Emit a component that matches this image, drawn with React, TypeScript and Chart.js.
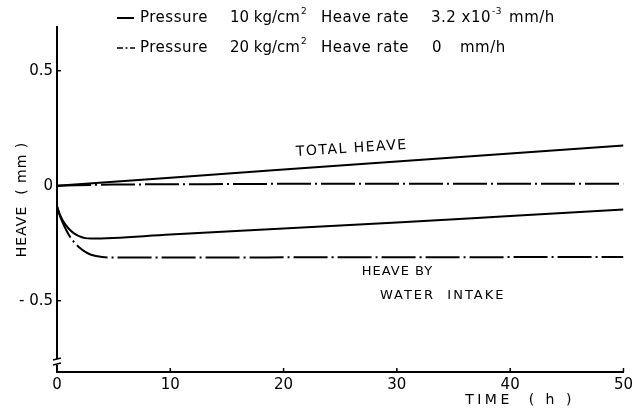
import React, { useEffect, useRef } from "react";
import { Chart, registerables } from "chart.js";

Chart.register(...registerables);

// Time axis (h)
const xTicks = [0, 10, 20, 30, 40, 50];
const yTicks = [-0.5, 0, 0.5];

// Total heave, pressure 10 kg/cm2 (solid)
const total10Time = [0, 10, 20, 30, 40, 50];
const total10Heave = [0, 0.035, 0.07, 0.105, 0.14, 0.175];

// Total heave, pressure 20 kg/cm2 (dash-dot)
const total20Time = [0, 5, 10, 20, 30, 40, 50];
const total20Heave = [0, 0.005, 0.006, 0.008, 0.008, 0.009, 0.009];

// Heave by water intake, pressure 10 kg/cm2 (solid)
const water10Time = [0, 0.25, 0.5, 1, 1.5, 2, 2.5, 3, 10, 20, 30, 40, 50];
const water10Heave = [-0.09, -0.125, -0.15, -0.185, -0.207, -0.22, -0.228, -0.23, -0.212, -0.186, -0.16, -0.132, -0.104];

// Heave by water intake, pressure 20 kg/cm2 (dash-dot)
const water20Time = [0, 0.25, 0.5, 1, 1.5, 2, 2.5, 3, 4, 5, 50];
const water20Heave = [-0.09, -0.13, -0.16, -0.21, -0.245, -0.27, -0.288, -0.3, -0.31, -0.312, -0.31];

const FONT = '"DejaVu Sans", sans-serif';
const DASHDOT = [34, 4, 2, 4];

const pts = (xs: number[], ys: number[]) => xs.map((x, i) => ({ x, y: ys[i] }));

const overlay = {
  id: "overlay",
  afterDraw(chart: any) {
    const ctx = chart.ctx as CanvasRenderingContext2D;
    const c = ctx as any;
    const xs = chart.scales.x;
    const ys = chart.scales.y;
    const area = chart.chartArea;
    ctx.save();
    ctx.fillStyle = "#000";
    ctx.strokeStyle = "#000";
    ctx.lineWidth = 1.5;
    // inward ticks
    yTicks.forEach((v) => {
      const py = ys.getPixelForValue(v);
      ctx.beginPath();
      ctx.moveTo(area.left, py);
      ctx.lineTo(area.left + 4, py);
      ctx.stroke();
    });
    xTicks.forEach((v) => {
      const px = xs.getPixelForValue(v);
      ctx.beginPath();
      ctx.moveTo(px, area.bottom);
      ctx.lineTo(px, area.bottom - 4);
      ctx.stroke();
    });
    // axis break
    const by = area.bottom - 10;
    ctx.fillStyle = "#fff";
    ctx.fillRect(area.left - 3, by - 3, 6, 6);
    ctx.strokeStyle = "#000";
    ctx.lineWidth = 1.3;
    ctx.beginPath();
    ctx.moveTo(area.left - 4, by - 2);
    ctx.lineTo(area.left + 4, by - 4);
    ctx.moveTo(area.left - 4, by + 3);
    ctx.lineTo(area.left + 4, by + 1);
    ctx.stroke();

    ctx.fillStyle = "#000";
    ctx.textBaseline = "middle";
    const big = `15px ${FONT}`;
    ctx.font = big;
    c.letterSpacing = "0.5px";
    // legend
    const sup = (txt: string, x: number, y: number) => {
      ctx.font = `9px ${FONT}`;
      ctx.fillText(txt, x, y - 6);
      const w = ctx.measureText(txt).width;
      ctx.font = big;
      return w;
    };
    const y1 = 18;
    const y2 = 48;
    ctx.lineWidth = 2;
    ctx.beginPath();
    ctx.moveTo(117, y1);
    ctx.lineTo(134, y1);
    ctx.stroke();
    ctx.lineWidth = 1.5;
    ctx.beginPath();
    ctx.moveTo(117, y2);
    ctx.lineTo(123, y2);
    ctx.moveTo(125.5, y2);
    ctx.lineTo(127.5, y2);
    ctx.moveTo(130, y2);
    ctx.lineTo(135, y2);
    ctx.stroke();
    ctx.textAlign = "left";
    ctx.fillText("Pressure", 140, y1);
    ctx.fillText("Pressure", 140, y2);
    c.letterSpacing = "0px";
    let t = "10 kg/cm";
    ctx.fillText(t, 230, y1);
    sup("2", 230 + ctx.measureText(t).width + 1, y1);
    t = "20 kg/cm";
    ctx.fillText(t, 230, y2);
    sup("2", 230 + ctx.measureText(t).width + 1, y2);
    c.letterSpacing = "0.5px";
    ctx.fillText("Heave rate", 321, y1);
    ctx.fillText("Heave rate", 321, y2);
    t = "3.2 x10";
    ctx.fillText(t, 431, y1);
    const w1 = ctx.measureText(t).width;
    const ws = sup("-3", 431 + w1 + 1, y1);
    ctx.fillText("mm/h", 431 + w1 + ws + 8, y1);
    ctx.fillText("0", 432, y2);
    ctx.fillText("mm/h", 460, y2);

    // axis titles
    ctx.font = `14px ${FONT}`;
    ctx.textAlign = "center";
    c.letterSpacing = "1px";
    ctx.save();
    ctx.translate(22, (area.top + area.bottom) / 2);
    ctx.rotate(-Math.PI / 2);
    ctx.fillText("HEAVE  ( mm )", 0, 0);
    ctx.restore();
    c.letterSpacing = "3.5px";
    ctx.fillText("TIME  ( h )", 520, 400);

    // annotations
    c.letterSpacing = "1.5px";
    ctx.textAlign = "left";
    ctx.save();
    ctx.translate(xs.getPixelForValue(21.1), ys.getPixelForValue(0.145));
    ctx.rotate(-0.065);
    ctx.fillText("TOTAL HEAVE", 0, 0);
    ctx.restore();
    ctx.font = `13px ${FONT}`;
    c.letterSpacing = "1px";
    ctx.fillText("HEAVE BY", xs.getPixelForValue(26.9), ys.getPixelForValue(-0.374));
    c.letterSpacing = "2px";
    ctx.fillText("WATER  INTAKE", xs.getPixelForValue(28.5), ys.getPixelForValue(-0.478));
    ctx.restore();
  },
};

export default function App() {
  const ref = useRef<HTMLCanvasElement | null>(null);
  useEffect(() => {
    if (!ref.current) return;
    const line = (data: any[], dash: number[]) => ({
      data,
      borderColor: "#000",
      borderWidth: 2,
      borderDash: dash,
      pointRadius: 0,
      fill: false,
      cubicInterpolationMode: "monotone" as const,
    });
    const chart = new Chart(ref.current, {
      type: "line",
      data: {
        datasets: [
          line(pts(total10Time, total10Heave), []),
          line(pts(total20Time, total20Heave), DASHDOT),
          line(pts(water10Time, water10Heave), []),
          line(pts(water20Time, water20Heave), DASHDOT),
        ],
      },
      options: {
        animation: false,
        responsive: true,
        maintainAspectRatio: false,
        layout: { padding: { top: 27, right: 13, left: 0, bottom: 0 } },
        plugins: { legend: { display: false }, tooltip: { enabled: false } },
        scales: {
          x: {
            type: "linear",
            min: 0,
            max: 50,
            afterBuildTicks: (s: any) => {
              s.ticks = xTicks.map((v) => ({ value: v }));
            },
            afterFit: (s: any) => {
              s.height = 38;
            },
            ticks: { color: "#000", font: { family: FONT, size: 15 }, padding: 4, maxRotation: 0 },
            grid: { drawOnChartArea: false, drawTicks: false },
            border: { color: "#000", width: 2 },
          },
          y: {
            type: "linear",
            min: -0.81,
            max: 0.69,
            afterBuildTicks: (s: any) => {
              s.ticks = yTicks.map((v) => ({ value: v }));
            },
            afterFit: (s: any) => {
              s.width = 57;
            },
            ticks: {
              color: "#000",
              font: { family: FONT, size: 15 },
              padding: 4,
              callback: (v: any) => (v === 0 ? "0" : v < 0 ? "- " + Math.abs(v) : String(v)),
            },
            grid: { drawOnChartArea: false, drawTicks: false },
            border: { color: "#000", width: 2 },
          },
        },
      },
      plugins: [overlay],
    });
    return () => chart.destroy();
  }, []);
  return (
    <div style={{ position: "absolute", left: 0, top: 0, width: 637, height: 410, background: "#fff" }}>
      <canvas ref={ref} />
    </div>
  );
}
